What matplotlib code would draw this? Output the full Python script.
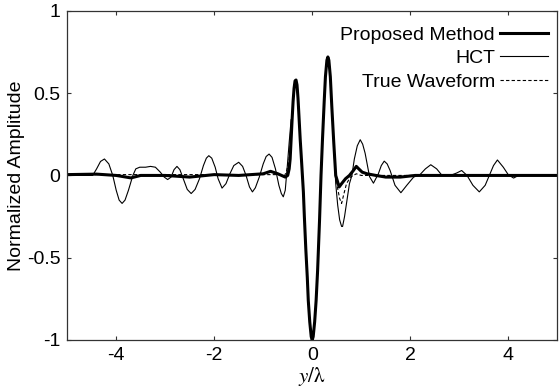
import numpy as np
import matplotlib
matplotlib.use('Agg')
import matplotlib.pyplot as plt

plt.rcParams['font.family'] = ['Liberation Sans', 'DejaVu Sans']
plt.rcParams['mathtext.fontset'] = 'stix'

# main pulse shared by the curves
pulse_x = [-0.41, -0.39, -0.37, -0.35, -0.33, -0.31, -0.29, -0.27, -0.245, -0.22,
           -0.20, -0.18, -0.16, -0.13, -0.10, -0.08, -0.05, -0.02, 0.0, 0.02,
           0.05, 0.08, 0.11, 0.15, 0.18, 0.21, 0.245, 0.27, 0.30, 0.32,
           0.34, 0.37, 0.40]
pulse_y = [0.34, 0.45, 0.53, 0.575, 0.58, 0.55, 0.47, 0.36, 0.22, 0.10,
           0.0, -0.10, -0.25, -0.45, -0.62, -0.76, -0.89, -0.98, -1.0, -0.98,
           -0.89, -0.76, -0.58, -0.27, 0.0, 0.22, 0.45, 0.60, 0.70, 0.72,
           0.70, 0.60, 0.42]

# Proposed Method
prop_left_x = [-5.0, -4.4, -4.0, -3.7, -3.5, -3.0, -2.5, -2.0, -1.5, -1.0,
               -0.85, -0.7, -0.55, -0.50, -0.47, -0.45, -0.43]
prop_left_y = [0.005, 0.008, 0.0, -0.015, 0.0, 0.0, -0.01, 0.005, 0.0, 0.01,
               0.025, 0.01, -0.01, 0.0, 0.04, 0.10, 0.22]
prop_right_x = [0.44, 0.48, 0.52, 0.55, 0.60, 0.68, 0.76, 0.84, 0.90, 0.95,
                1.02, 1.12, 1.3, 1.5, 1.8, 2.1, 3.0, 4.0, 5.0]
prop_right_y = [0.20, 0.0, -0.04, -0.07, -0.05, -0.02, 0.0, 0.03, 0.055, 0.04,
                0.02, 0.01, 0.0, -0.01, -0.01, 0.0, 0.0, 0.0, 0.0]

# True Waveform
true_left_x = [-5.0, -4.0, -3.0, -2.0, -1.0, -0.7, -0.60, -0.56, -0.52, -0.48,
               -0.45, -0.43]
true_left_y = [0.005, 0.005, 0.005, 0.005, 0.005, 0.005, 0.0, 0.0, 0.03, 0.08,
               0.17, 0.27]
true_right_x = [0.44, 0.48, 0.52, 0.56, 0.60, 0.64, 0.70, 0.78, 0.9, 1.0,
                1.3, 2.0, 3.0, 4.0, 5.0]
true_right_y = [0.20, 0.0, -0.08, -0.14, -0.17, -0.12, -0.05, -0.01, 0.01, 0.0,
                0.0, 0.0, 0.0, 0.0, 0.0]

# HCT
hct_left_x = [-5.0, -4.6, -4.48, -4.40, -4.32, -4.24, -4.15, -4.07, -4.00, -3.94,
              -3.88, -3.82, -3.75, -3.66, -3.60, -3.52, -3.40, -3.30, -3.20, -3.10,
              -3.02, -2.95, -2.88, -2.82, -2.76, -2.70, -2.62, -2.55, -2.47, -2.39,
              -2.30, -2.22, -2.16, -2.11, -2.05, -1.98, -1.92, -1.84, -1.76, -1.68,
              -1.60, -1.50, -1.42, -1.35, -1.28, -1.22, -1.16, -1.08, -1.00, -0.94,
              -0.88, -0.82, -0.75, -0.68, -0.63, -0.59, -0.55, -0.51, -0.47, -0.43]
hct_left_y = [0.0, 0.0, 0.0, 0.04, 0.085, 0.10, 0.07, 0.0, -0.09, -0.15,
              -0.17, -0.15, -0.09, 0.0, 0.04, 0.05, 0.05, 0.055, 0.05, 0.02,
              -0.01, -0.025, -0.01, 0.035, 0.055, 0.035, -0.03, -0.085, -0.11, -0.085,
              -0.02, 0.06, 0.105, 0.12, 0.105, 0.05, -0.02, -0.077, -0.05, 0.01,
              0.06, 0.08, 0.055, 0.0, -0.07, -0.10, -0.075, -0.01, 0.07, 0.115,
              0.13, 0.11, 0.04, -0.06, -0.11, -0.13, -0.09, 0.05, 0.20, 0.34]
hct_right_x = [0.44, 0.48, 0.52, 0.56, 0.60, 0.62, 0.66, 0.70, 0.76, 0.81,
               0.86, 0.92, 0.98, 1.03, 1.08, 1.17, 1.25, 1.35, 1.41, 1.47,
               1.53, 1.59, 1.69, 1.81, 1.93, 2.07, 2.20, 2.31, 2.42, 2.54,
               2.65, 2.82, 2.95, 3.05, 3.16, 3.28, 3.41, 3.53, 3.63, 3.70,
               3.78, 3.90, 4.00, 4.11, 4.21, 4.5, 5.0]
hct_right_y = [0.18, -0.05, -0.18, -0.27, -0.31, -0.31, -0.25, -0.17, -0.05, 0.0,
               0.10, 0.18, 0.217, 0.19, 0.135, -0.007, -0.047, 0.01, 0.06, 0.087,
               0.07, 0.03, -0.06, -0.105, -0.06, -0.01, 0.005, 0.04, 0.065, 0.04,
               0.0, 0.0, 0.015, 0.03, 0.0, -0.06, -0.10, -0.06, 0.01, 0.06,
               0.094, 0.05, 0.005, -0.016, 0.0, 0.0, 0.0]

prop_x = prop_left_x + pulse_x + prop_right_x
prop_y = prop_left_y + pulse_y + prop_right_y
true_x = true_left_x + pulse_x + true_right_x
true_y = true_left_y + pulse_y + true_right_y
hct_x = hct_left_x + pulse_x + hct_right_x
hct_y = hct_left_y + pulse_y + hct_right_y

fig = plt.figure(figsize=(5.6, 3.89), dpi=100)
ax = fig.add_axes([0.120, 0.126, 0.875, 0.846])

ax.plot(prop_x, prop_y, color='black', lw=2.2, label='Proposed Method')
ax.plot(hct_x, hct_y, color='black', lw=0.8, label='HCT')
ax.plot(true_x, true_y, color='black', lw=0.8, dashes=(3, 2), label='True Waveform')

ax.set_xlim(-5, 5)
ax.set_ylim(-1, 1)
ax.set_xticks([-4, -2, 0, 2, 4])
ax.set_xticklabels(['-4', '-2', '0', '2', '4'])
ax.set_yticks([-1, -0.5, 0, 0.5, 1])
ax.set_yticklabels(['-1', '-0.5', '0', '0.5', '1'])
ax.tick_params(direction='in', length=3, width=0.8, top=True, right=True,
               labelsize=14, pad=5, color='#333333')
for s in ax.spines.values():
    s.set_linewidth(0.9)
    s.set_color('#333333')

ax.set_ylabel('Normalized Amplitude', fontsize=14, labelpad=1)
ax.set_xlabel(r'$y/\mathrm{\lambda}$', fontsize=15, labelpad=1)

leg = ax.legend(loc='upper right', bbox_to_anchor=(1.0, 0.98), frameon=False,
                markerfirst=False, fontsize=14, handlelength=2.5,
                handletextpad=0.25, labelspacing=0.3,
                borderaxespad=0.25, borderpad=0.2)

fig.savefig('out.png', dpi=100)
